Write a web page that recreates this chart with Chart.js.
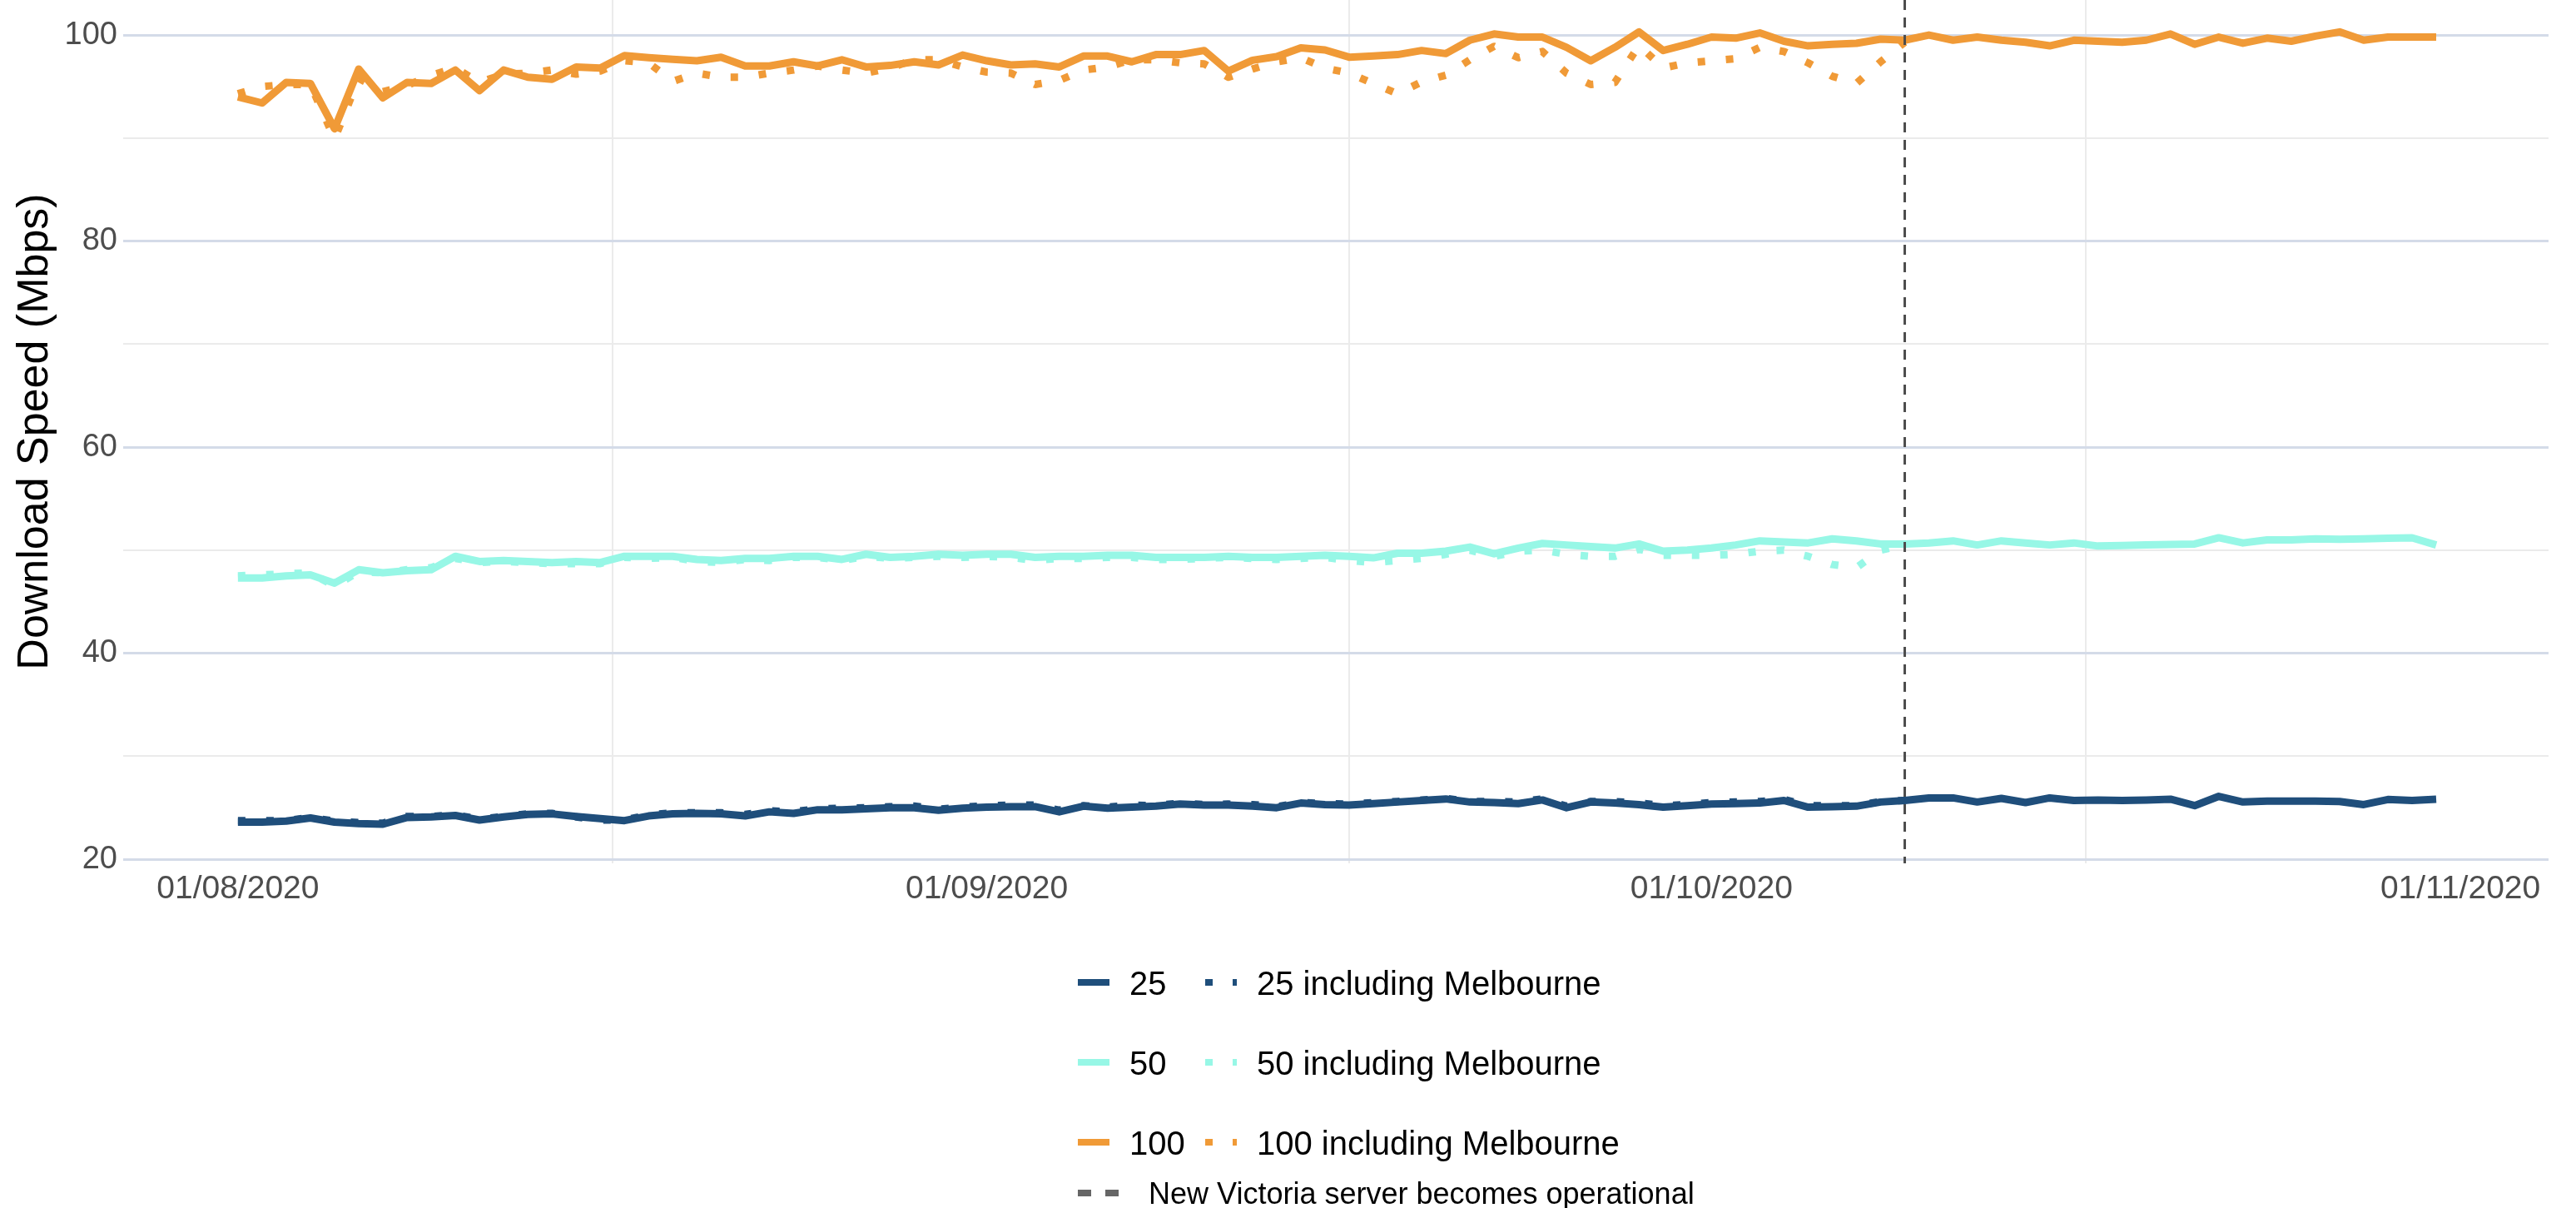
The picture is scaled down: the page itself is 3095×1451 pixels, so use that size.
<!DOCTYPE html>
<html>
<head>
<meta charset="utf-8">
<title>Download speed</title>
<script src="https://cdn.jsdelivr.net/npm/chart.js@4.4.1/dist/chart.umd.min.js"></script>
<style>
  html, body { margin: 0; padding: 0; background: #fff; }
  canvas { display: block; }
</style>
</head>
<body>
<canvas id="speed" width="3095" height="1451"></canvas>
<script>
// x = days since 01/08/2020 (0 = 1 Aug, 91 = 31 Oct)
const days = Array.from({ length: 92 }, (_, i) => i);

const tickDays = [0, 31, 61, 92];
const tickLabels = ['01/08/2020', '01/09/2020', '01/10/2020', '01/11/2020'];
const minorDays = [15.5, 46, 76.5];
const serverDay = 69; // 9 Oct 2020
const yTicks = [20, 30, 40, 50, 60, 70, 80, 90, 100];

const speed25 = [
  23.6, 23.6, 23.7, 24.0, 23.6, 23.45, 23.4, 24.05, 24.1, 24.25,
  23.8, 24.1, 24.35, 24.4, 24.15, 23.95, 23.75, 24.2, 24.4, 24.45,
  24.4, 24.2, 24.6, 24.45, 24.8, 24.8, 24.9, 25.0, 25.0, 24.75,
  24.95, 25.05, 25.1, 25.1, 24.6, 25.15, 24.95, 25.05, 25.15, 25.35,
  25.25, 25.25, 25.15, 25.0, 25.45, 25.3, 25.25, 25.4, 25.55, 25.7,
  25.85, 25.55, 25.5, 25.4, 25.75, 25.0, 25.55, 25.45, 25.3, 25.05,
  25.2, 25.35, 25.4, 25.45, 25.7, 25.05, 25.1, 25.15, 25.55, 25.7,
  25.95, 25.95, 25.55, 25.9, 25.5, 25.95, 25.7, 25.75, 25.7, 25.75,
  25.83, 25.2, 26.1, 25.55, 25.65, 25.65, 25.65, 25.6, 25.3, 25.8,
  25.7, 25.83
];
const speed25Melb = [
  23.75, 23.75, 23.75, 24.05, 23.7, 23.55, 23.5, 24.15, 24.15, 24.3,
  23.9, 24.15, 24.4, 24.45, 24.1, 23.8, 23.8, 24.3, 24.5, 24.5,
  24.5, 24.35, 24.7, 24.6, 24.9, 24.95, 25.0, 25.1, 25.15, 24.85,
  25.05, 25.2, 25.25, 25.25, 24.75, 25.2, 25.05, 25.25, 25.2, 25.45,
  25.3, 25.35, 25.3, 25.1, 25.5, 25.4, 25.35, 25.5, 25.6, 25.75,
  25.9, 25.6, 25.6, 25.55, 25.85, 25.15, 25.6, 25.6, 25.45, 25.2,
  25.3, 25.5, 25.55, 25.6, 25.8, 25.2, 25.2, 25.2, 25.6, 25.7
];

const speed50 = [
  47.3, 47.3, 47.5, 47.6, 46.8, 48.1, 47.8, 48.0, 48.1, 49.4,
  48.9, 49.0, 48.9, 48.8, 48.9, 48.8, 49.4, 49.4, 49.4, 49.1,
  49.0, 49.2, 49.2, 49.4, 49.4, 49.1, 49.6, 49.3, 49.4, 49.6,
  49.5, 49.6, 49.6, 49.3, 49.4, 49.4, 49.5, 49.5, 49.3, 49.3,
  49.3, 49.4, 49.3, 49.3, 49.4, 49.5, 49.4, 49.25, 49.7, 49.7,
  49.9, 50.3, 49.65, 50.2, 50.65, 50.5, 50.35, 50.2, 50.6, 49.9,
  50.0, 50.2, 50.5, 50.9, 50.8, 50.7, 51.1, 50.9, 50.6, 50.6,
  50.7, 50.9, 50.5, 50.9, 50.7, 50.5, 50.7, 50.4, 50.45, 50.5,
  50.55, 50.6, 51.2, 50.7, 51.0, 51.0, 51.1, 51.05, 51.1, 51.15,
  51.2, 50.5
];
const speed50Melb = [
  47.5, 47.6, 47.7, 47.8, 46.5, 47.9, 47.8, 48.1, 48.3, 49.2,
  48.8, 48.9, 48.8, 48.7, 48.7, 48.7, 49.3, 49.2, 49.3, 48.9,
  48.8, 49.1, 49.0, 49.3, 49.3, 49.0, 49.4, 49.2, 49.3, 49.4,
  49.3, 49.4, 49.3, 49.0, 49.2, 49.2, 49.3, 49.3, 49.1, 49.1,
  49.2, 49.3, 49.2, 49.1, 49.2, 49.3, 49.0, 48.8, 49.0, 49.2,
  49.6, 50.0, 49.4, 49.9, 50.0, 49.6, 49.4, 49.4, 50.1, 49.5,
  49.5, 49.5, 49.6, 49.9, 50.0, 49.4, 48.6, 48.3, 50.0, 50.5
];

const speed100 = [
  94.0, 93.4, 95.4, 95.3, 90.9, 96.7, 93.9, 95.4, 95.3, 96.6,
  94.6, 96.6, 95.9, 95.7, 96.9, 96.8, 98.0, 97.8, 97.65, 97.5,
  97.85, 97.0, 97.0, 97.4, 97.0, 97.6, 96.9, 97.05, 97.4, 97.1,
  98.06, 97.5, 97.1, 97.2, 96.9, 97.96, 97.96, 97.4, 98.1, 98.1,
  98.5, 96.5, 97.55, 97.9, 98.76, 98.55, 97.85, 97.96, 98.1, 98.5,
  98.2, 99.5, 100.1, 99.8, 99.8, 98.8, 97.5, 98.8, 100.3, 98.5,
  99.1, 99.8, 99.7, 100.2, 99.4, 98.95, 99.1, 99.2, 99.6, 99.5,
  100.0, 99.5, 99.8, 99.5, 99.3, 98.95, 99.5, 99.4, 99.3, 99.5,
  100.1, 99.1, 99.8, 99.2, 99.7, 99.4, 99.9, 100.3, 99.5, 99.8,
  99.8, 99.8
];
const speed100Melb = [
  94.3, 95.0, 95.2, 95.2, 89.9, 95.8, 94.5, 95.1, 96.1, 96.8,
  95.4, 96.2, 96.3, 96.6, 96.2, 96.5, 97.5, 97.3, 95.5, 96.3,
  95.9, 95.9, 96.3, 96.6, 97.0, 96.6, 96.3, 96.8, 97.6, 97.6,
  96.9, 96.4, 96.3, 95.2, 95.6, 96.6, 96.9, 97.6, 97.6, 97.3,
  97.2, 95.9, 96.7, 97.4, 97.8, 96.8, 96.3, 95.3, 94.3, 95.45,
  96.1, 97.6, 98.9, 97.8, 98.4, 96.3, 95.2, 95.4, 99.0, 96.8,
  97.3, 97.5, 97.7, 98.8, 98.4, 97.3, 96.0, 95.3, 97.4, 99.3
];

const NAVY = '#1f4e7b';
const CYAN = '#97f7e6';
const ORANGE = '#f09a37';
const DOTTED = [9, 25];
const FONT = '"Liberation Sans", Arial, sans-serif';

const toPoints = vals => vals.map((v, i) => ({ x: days[i], y: v }));

function series(label, vals, color, dashed) {
  return {
    label: label,
    data: toPoints(vals),
    borderColor: color,
    backgroundColor: color,
    borderWidth: 9,
    borderDash: dashed ? DOTTED : [],
    borderCapStyle: 'butt',
    borderJoinStyle: 'round',
    pointRadius: 0,
    tension: 0,
    fill: false
  };
}

// legend: solid and dotted series side by side, then the server line key
const pairLegend = {
  id: 'pairLegend',
  afterDraw(chart) {
    const ctx = chart.ctx;
    const sets = chart.data.datasets;
    const rows = [
      { mid: 1180, base: 1195 },
      { mid: 1276, base: 1291 },
      { mid: 1372, base: 1387 }
    ];
    const key = (x0, x1, y, color, dash) => {
      ctx.beginPath();
      ctx.setLineDash(dash);
      ctx.lineCap = 'butt';
      ctx.lineWidth = 8;
      ctx.strokeStyle = color;
      ctx.moveTo(x0, y);
      ctx.lineTo(x1, y);
      ctx.stroke();
    };
    ctx.save();
    ctx.textBaseline = 'alphabetic';
    ctx.textAlign = 'left';
    ctx.fillStyle = '#000';
    rows.forEach((r, i) => {
      const solid = sets[i * 2];
      const dotted = sets[i * 2 + 1];
      ctx.font = '40px ' + FONT;
      key(1295, 1333, r.mid, solid.borderColor, []);
      ctx.fillText(solid.label, 1357, r.base);
      key(1448, 1486, r.mid, dotted.borderColor, [9, 24]);
      ctx.fillText(dotted.label, 1510, r.base);
    });
    key(1295, 1344, 1433, '#666666', [16, 17]);
    ctx.font = '36px ' + FONT;
    ctx.fillText('New Victoria server becomes operational', 1380, 1446);
    ctx.restore();
  }
};

// dashed vertical marker for the new Victoria server
const serverLine = {
  id: 'serverLine',
  afterDatasetsDraw(chart) {
    const { ctx, chartArea, scales } = chart;
    const x = scales.x.getPixelForValue(serverDay);
    ctx.save();
    ctx.beginPath();
    ctx.setLineDash([12, 9]);
    ctx.lineWidth = 3;
    ctx.strokeStyle = '#4d4d4d';
    ctx.moveTo(x, chartArea.top);
    ctx.lineTo(x, chartArea.bottom);
    ctx.stroke();
    ctx.restore();
  }
};

new Chart(document.getElementById('speed'), {
  type: 'line',
  data: {
    datasets: [
      series('25', speed25, NAVY, false),
      series('25 including Melbourne', speed25Melb, NAVY, true),
      series('50', speed50, CYAN, false),
      series('50 including Melbourne', speed50Melb, CYAN, true),
      series('100', speed100, ORANGE, false),
      series('100 including Melbourne', speed100Melb, ORANGE, true)
    ]
  },
  options: {
    responsive: false,
    devicePixelRatio: 1,
    animation: false,
    layout: { padding: { top: 0, right: 33, bottom: 0, left: 0 } },
    plugins: {
      legend: { display: false },
      tooltip: { enabled: false }
    },
    scales: {
      x: {
        type: 'linear',
        position: 'bottom',
        min: -4.75,
        max: 95.65,
        afterBuildTicks: scale => {
          scale.ticks = tickDays.concat(minorDays).map(v => ({ value: v }));
        },
        afterFit: scale => {
          scale.height = 414;
          scale.paddingLeft = 0;
          scale.paddingRight = 0;
        },
        ticks: {
          autoSkip: false,
          maxRotation: 0,
          padding: 8,
          color: '#4d4d4d',
          font: { family: FONT, size: 39 },
          callback: v => {
            const i = tickDays.indexOf(v);
            return i >= 0 ? tickLabels[i] : '';
          }
        },
        grid: {
          drawTicks: false,
          lineWidth: 2,
          color: c => (c.tick && minorDays.includes(c.tick.value)) ? '#ebebeb' : 'rgba(0,0,0,0)'
        },
        border: { display: false }
      },
      y: {
        type: 'linear',
        min: 19.6,
        max: 103.4,
        afterBuildTicks: scale => {
          scale.ticks = yTicks.map(v => ({ value: v }));
        },
        afterFit: scale => {
          scale.width = 148;
          scale.paddingTop = 0;
          scale.paddingBottom = 0;
        },
        ticks: {
          padding: 7,
          color: '#4d4d4d',
          font: { family: FONT, size: 38 },
          callback: v => (v % 20 === 0 ? v : '')
        },
        grid: {
          drawTicks: false,
          color: c => (c.tick && c.tick.value % 20 === 0) ? '#d4dbe8' : '#ebebeb',
          lineWidth: c => (c.tick && c.tick.value % 20 === 0) ? 3 : 2
        },
        border: { display: false },
        title: {
          display: true,
          text: 'Download Speed (Mbps)',
          color: '#000',
          font: { family: FONT, size: 52 },
          padding: { top: 11, bottom: 0 }
        }
      }
    }
  },
  plugins: [serverLine, pairLegend]
});
</script>
</body>
</html>
